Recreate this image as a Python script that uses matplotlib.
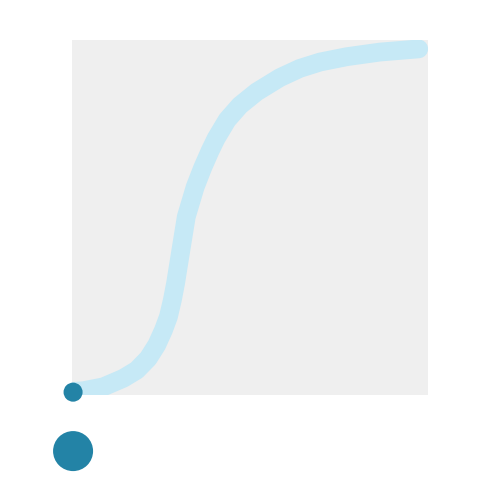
import matplotlib
matplotlib.use("Agg")
import matplotlib.pyplot as plt

# curve (axes units 0..100)
curve_x = [0.3, 3.2, 8.8, 14.4, 18.2, 21.4, 23.8, 25.7, 27.1, 28.2, 29.1,
           30.6, 32.1, 34.6, 36.7, 38.8, 40.5, 43.6, 47.2, 51.9, 58.4,
           64.0, 69.7, 77.2, 86.5, 97.4]
curve_y = [1.0, 1.2, 2.3, 4.7, 7.0, 10.3, 14.1, 18.3, 22.1, 26.8, 31.5,
           40.9, 50.2, 58.6, 64.0, 68.8, 72.3, 77.5, 81.6, 85.4, 89.4,
           92.0, 93.8, 95.3, 96.6, 97.5]

# the two dots at the left edge
dot_x = [0.3, 0.3]
dot_y = [0.8, -15.8]
dot_size = [188, 830]

fig = plt.figure(figsize=(5, 5), dpi=100)
ax = fig.add_axes([0.144, 0.21, 0.712, 0.71])
ax.set_facecolor("#efefef")
ax.set_xlim(0, 100)
ax.set_ylim(0, 100)

ax.plot(curve_x, curve_y, color="#c6e9f6", lw=13.5, solid_capstyle="round",
        solid_joinstyle="round", zorder=2)
ax.scatter(dot_x, dot_y, s=dot_size, color="#2383a6", linewidths=0,
           clip_on=False, zorder=3)

for s in ax.spines.values():
    s.set_visible(False)
ax.set_xticks([])
ax.set_yticks([])

fig.savefig("out.png", dpi=100)
